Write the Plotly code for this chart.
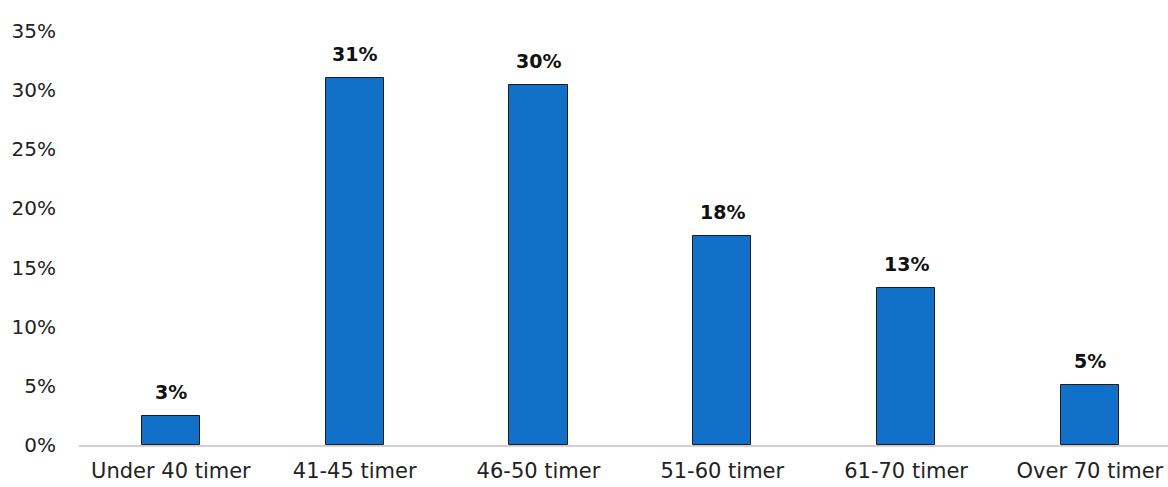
import plotly.graph_objects as go

categories = ["Under 40 timer", "41-45 timer", "46-50 timer", "51-60 timer", "61-70 timer", "Over 70 timer"]
values = [2.45, 31.0, 30.4, 17.7, 13.3, 5.07]
labels = ["3%", "31%", "30%", "18%", "13%", "5%"]
tick_vals = [0, 5, 10, 15, 20, 25, 30, 35]
tick_text = ["0%", "5%", "10%", "15%", "20%", "25%", "30%", "35%"]

FONT = "'DejaVu Sans', sans-serif"

fig = go.Figure(go.Bar(
    x=list(range(len(categories))),
    y=values,
    width=0.316,
    marker=dict(color="#1170C8", line=dict(color="#1a1a1a", width=1)),
    cliponaxis=False,
))

for i, (v, lab) in enumerate(zip(values, labels)):
    fig.add_annotation(
        x=i, y=v, text="<b>%s</b>" % lab, showarrow=False,
        yanchor="bottom", yshift=11,
        font=dict(family=FONT, size=19, color="#111111"),
    )

fig.update_layout(
    width=1168, height=487,
    margin=dict(l=79, r=0, t=31, b=42),
    paper_bgcolor="white", plot_bgcolor="white",
    showlegend=False,
    font=dict(family=FONT, size=18, color="#222222"),
    bargap=0,
)
fig.update_xaxes(
    tickmode="array",
    tickvals=list(range(len(categories))),
    ticktext=categories,
    range=[-0.5, 5.425],
    showline=True, linecolor="#d0d0d0", linewidth=1.5,
    showgrid=False, zeroline=False,
    ticks="", ticklabelstandoff=6,
    tickfont=dict(family=FONT, size=21, color="#222222"),
)
fig.update_yaxes(
    range=[0, 35],
    tickmode="array", tickvals=tick_vals, ticktext=tick_text,
    showgrid=False, zeroline=False, showline=False,
    ticks="", ticklabelstandoff=22,
    tickfont=dict(family=FONT, size=20, color="#222222"),
)

fig.write_html("out.html")
